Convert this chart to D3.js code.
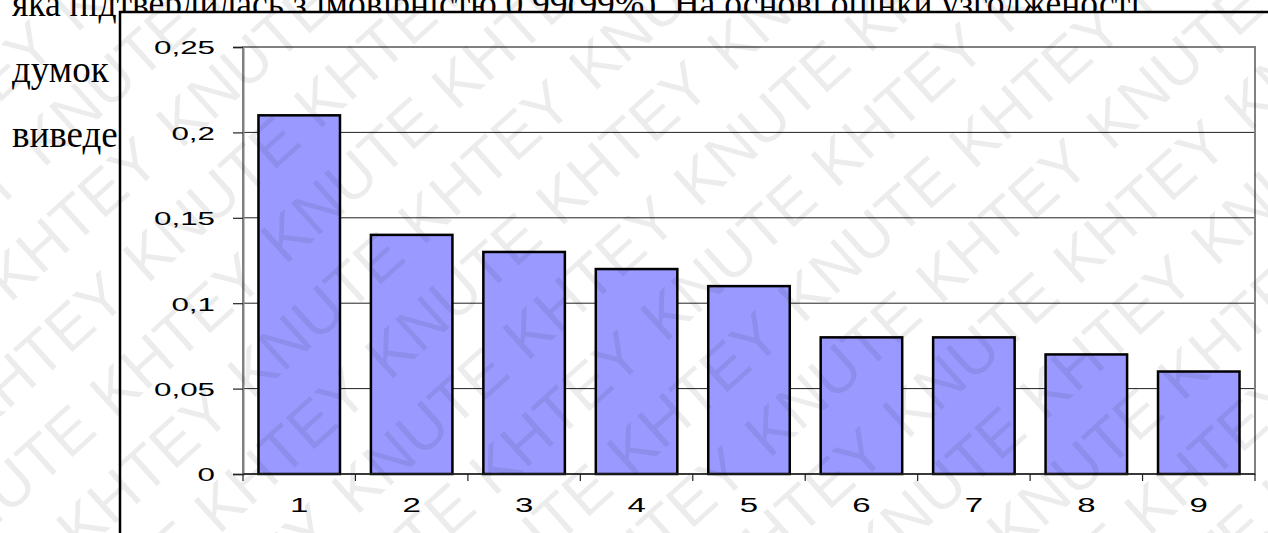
<!DOCTYPE html>
<html>
<head>
<meta charset="utf-8">
<script src="https://cdn.jsdelivr.net/npm/d3@7"></script>
<style>
  body { margin: 0; background: #fff; overflow: hidden; }
  svg { display: block; }
</style>
</head>
<body>
<script>
// values
var categories = ["1", "2", "3", "4", "5", "6", "7", "8", "9"];
var values = [0.21, 0.14, 0.13, 0.12, 0.11, 0.08, 0.08, 0.07, 0.06];
var yTicks = [0, 0.05, 0.1, 0.15, 0.2, 0.25];
var yTickLabels = ["0", "0,05", "0,1", "0,15", "0,2", "0,25"];
var pageLines = [
  "яка підтвердилась з імовірністю 0,99(99%). На основі оцінки узгодженості",
  "думок",
  "виведе"
];
var watermarkWords = ["KNUTE", "KHTEY"];

var width = 1268,
    height = 533;

var svg = d3.select("body").append("svg")
    .attr("width", width)
    .attr("height", height);

// page text behind the pasted chart
svg.append("g")
  .selectAll("text")
  .data(pageLines)
  .enter().append("text")
    .attr("x", 12)
    .attr("y", function(d, i) { return 16 + i * 65.5; })
    .attr("font-family", "Liberation Serif, Times New Roman, serif")
    .attr("font-size", 37)
    .attr("fill", "#000")
    .attr("textLength", function(d, i) { return i == 0 ? 1128 : null; })
    .attr("lengthAdjust", "spacingAndGlyphs")
    .text(function(d) { return d; });

// chart box
svg.append("rect")
    .attr("x", 120)
    .attr("y", 12)
    .attr("width", width)
    .attr("height", height)
    .attr("fill", "#fff");
svg.append("path")
    .attr("d", "M120," + height + "V12H" + width)
    .attr("fill", "none")
    .attr("stroke", "#000")
    .attr("stroke-width", 2.5);

var plot = { left: 243, right: 1255, top: 47, bottom: 474 };
var stretch = 1.65; // the chart image was widened, so are its labels

var x = d3.scaleBand()
    .domain(categories)
    .range([plot.left, plot.right])
    .paddingInner(0.275)
    .paddingOuter(0.1375);

var y = d3.scaleLinear()
    .domain([0, 0.25])
    .range([plot.bottom, plot.top]);

// gridlines
svg.append("g")
  .selectAll("line")
  .data(yTicks.slice(1, -1))
  .enter().append("line")
    .attr("x1", plot.left)
    .attr("x2", plot.right)
    .attr("y1", function(d) { return y(d); })
    .attr("y2", function(d) { return y(d); })
    .attr("stroke", "#222")
    .attr("stroke-width", 1);

// plot frame
svg.append("rect")
    .attr("x", plot.left)
    .attr("y", plot.top)
    .attr("width", plot.right - plot.left)
    .attr("height", plot.bottom - plot.top)
    .attr("fill", "none")
    .attr("stroke", "#808080")
    .attr("stroke-width", 2);

// bars
svg.append("g")
  .selectAll("rect")
  .data(values)
  .enter().append("rect")
    .attr("x", function(d, i) { return x(categories[i]); })
    .attr("y", function(d) { return y(d); })
    .attr("width", x.bandwidth())
    .attr("height", function(d) { return y(0) - y(d); })
    .attr("fill", "#9999ff")
    .attr("stroke", "#000")
    .attr("stroke-width", 2.5);

// y axis
var yAxis = svg.append("g")
    .attr("transform", "translate(" + plot.left + ",0)")
    .call(d3.axisLeft(y)
      .tickValues(yTicks)
      .tickSize(10)
      .tickFormat(function(d, i) { return yTickLabels[i]; }));
yAxis.select(".domain").attr("stroke", "#808080").attr("stroke-width", 2);
yAxis.selectAll(".tick line").attr("stroke", "#222").attr("stroke-width", 1.2);
yAxis.selectAll("text")
    .attr("x", 0)
    .attr("dy", "0.36em")
    .attr("transform", "translate(-28,0) scale(" + stretch + ",1)")
    .attr("text-anchor", "end")
    .attr("font-family", "Liberation Sans, Arial, sans-serif")
    .attr("font-size", 19)
    .attr("fill", "#000");

// x axis: ticks on the band boundaries
var step = x.step();
var xAxis = svg.append("g")
    .attr("transform", "translate(0," + plot.bottom + ")");
xAxis.append("line")
    .attr("x1", plot.left)
    .attr("x2", plot.right)
    .attr("stroke", "#222")
    .attr("stroke-width", 1.5);
xAxis.selectAll(".bt")
  .data(d3.range(categories.length + 1))
  .enter().append("line")
    .attr("class", "bt")
    .attr("x1", function(i) { return plot.left + i * step; })
    .attr("x2", function(i) { return plot.left + i * step; })
    .attr("y1", 0)
    .attr("y2", 7)
    .attr("stroke", "#222")
    .attr("stroke-width", 1.2);
xAxis.selectAll("text")
  .data(categories)
  .enter().append("text")
    .attr("transform", function(d) {
      return "translate(" + (x(d) + x.bandwidth() / 2) + ",38) scale(" + stretch + ",1)";
    })
    .attr("text-anchor", "middle")
    .attr("font-family", "Liberation Sans, Arial, sans-serif")
    .attr("font-size", 20)
    .attr("fill", "#000")
    .text(function(d) { return d; });

// faint watermark over everything
var wm = svg.append("g")
    .attr("transform", "rotate(-42," + width / 2 + "," + height / 2 + ")")
    .attr("font-family", "Liberation Sans, Arial, sans-serif")
    .attr("font-size", 62)
    .attr("fill", "#000")
    .attr("fill-opacity", 0.075)
    .attr("pointer-events", "none");
d3.range(-9, 10).forEach(function(r) {
  d3.range(-4, 8).forEach(function(c) {
    wm.append("text")
      .attr("x", -200 + c * 230 + (r % 2) * 115)
      .attr("y", height / 2 + r * 78)
      .text(watermarkWords[(r + c + 20) % 2]);
  });
});
</script>
</body>
</html>
